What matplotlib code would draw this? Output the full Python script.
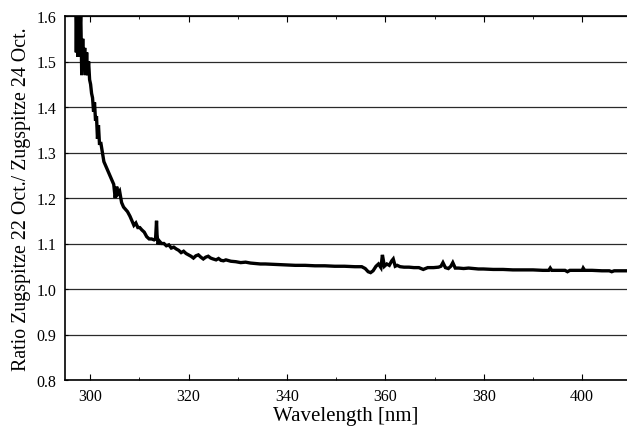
import matplotlib
matplotlib.use("Agg")
import matplotlib.pyplot as plt
from matplotlib.ticker import MultipleLocator, FormatStrFormatter

wavelength = [297.1, 297.2, 297.3, 297.5, 297.7, 297.9, 298.1, 298.3, 298.5, 298.7,
              298.9, 299.1, 299.3, 299.5, 299.7, 299.9, 300.1, 300.3, 300.5, 300.7,
              300.9, 301.1, 301.3, 301.5, 301.7, 301.9, 302.2, 302.5, 302.8, 303.2,
              303.6, 304.0, 304.4, 304.8, 305.1, 305.4, 305.7, 306.0, 306.4, 306.8,
              307.2, 307.6, 308.1, 308.5, 308.9, 309.3, 309.7, 310.1, 310.5, 311.0,
              311.5, 312.0, 312.5, 313.0, 313.3, 313.5, 313.6, 313.8, 314.1, 314.5,
              315.0, 315.5, 316.0, 316.5, 317.0, 317.5, 318.0, 318.5, 319.0, 319.5,
              320.0, 320.5, 321.0, 321.5, 322.0, 322.5, 323.0, 323.5, 324.0, 324.5,
              325.0, 325.6, 326.1, 326.6, 327.1, 327.6, 328.6, 329.6, 330.6, 331.6,
              332.6, 333.6, 334.6, 335.6, 337.6, 339.6, 341.7, 343.7, 345.7, 347.7,
              349.7, 351.7, 353.8, 355.2, 355.9, 356.5, 357.0, 357.5, 358.1, 358.6,
              359.1, 359.4, 359.8, 360.3, 360.8, 361.3, 361.6, 362.0, 362.4, 363.0,
              363.8, 364.8, 365.8, 366.8, 367.7, 368.6, 369.8, 370.8, 371.3, 371.7,
              372.2, 372.8, 373.3, 373.7, 374.2, 374.9, 375.9, 376.9, 377.9, 378.9,
              379.9, 381.9, 383.9, 385.9, 387.9, 390.0, 392.0, 393.2, 393.5, 393.8,
              395.0, 396.5, 397.0, 397.5, 399.0, 400.0, 400.2, 400.5, 402.0, 404.0,
              405.5, 406.0, 406.5, 408.0, 409.5]

ratio = [1.62, 1.52, 1.61, 1.51, 1.60, 1.55, 1.61, 1.47, 1.55, 1.48,
         1.53, 1.47, 1.52, 1.47, 1.50, 1.46, 1.45, 1.43, 1.42, 1.39,
         1.41, 1.37, 1.38, 1.33, 1.36, 1.32, 1.32, 1.30, 1.28, 1.27,
         1.26, 1.25, 1.24, 1.23, 1.20, 1.225, 1.21, 1.215, 1.19, 1.18,
         1.175, 1.17, 1.16, 1.15, 1.14, 1.145, 1.135, 1.135, 1.13, 1.125,
         1.115, 1.11, 1.11, 1.108, 1.11, 1.15, 1.12, 1.098, 1.105, 1.10,
         1.10, 1.095, 1.097, 1.09, 1.092, 1.088, 1.085, 1.08, 1.083, 1.078,
         1.075, 1.072, 1.068, 1.073, 1.075, 1.07, 1.066, 1.07, 1.072, 1.068,
         1.066, 1.064, 1.067, 1.063, 1.062, 1.064, 1.061, 1.06, 1.058, 1.059,
         1.057, 1.056, 1.055, 1.055, 1.054, 1.053, 1.052, 1.052, 1.051, 1.051,
         1.05, 1.05, 1.049, 1.049, 1.045, 1.038, 1.036, 1.04, 1.05, 1.055,
         1.047, 1.075, 1.05, 1.055, 1.052, 1.062, 1.066, 1.05, 1.052, 1.049,
         1.048, 1.048, 1.047, 1.047, 1.043, 1.047, 1.047, 1.048, 1.05, 1.058,
         1.047, 1.045, 1.05, 1.058, 1.046, 1.046, 1.045, 1.046, 1.045, 1.044,
         1.044, 1.043, 1.043, 1.042, 1.042, 1.042, 1.041, 1.041, 1.046, 1.041,
         1.041, 1.041, 1.038, 1.041, 1.041, 1.041, 1.046, 1.041, 1.041, 1.040,
         1.040, 1.038, 1.040, 1.040, 1.040]

x_ticks = [300, 320, 340, 360, 380, 400]
y_ticks = [0.8, 0.9, 1.0, 1.1, 1.2, 1.3, 1.4, 1.5, 1.6]

plt.rcParams['font.family'] = ['Liberation Serif', 'DejaVu Serif']

fig = plt.figure(figsize=(6.27, 4.27), dpi=100)
ax = fig.add_axes([65/627, 1 - 381/427, (627 - 65)/627, (381 - 17)/427])

ax.plot(wavelength, ratio, color='black', linewidth=2.4, solid_joinstyle='miter')

ax.set_xlim(294.9, 409.1)
ax.set_ylim(0.8, 1.6)
ax.set_xticks(x_ticks)
ax.xaxis.set_minor_locator(MultipleLocator(10))
ax.set_yticks(y_ticks)
ax.yaxis.set_major_formatter(FormatStrFormatter('%.1f'))

ax.grid(axis='y', color='#2a2a2a', linewidth=0.9)
ax.set_axisbelow(True)

ax.spines['right'].set_visible(False)
for s in ['left', 'bottom', 'top']:
    ax.spines[s].set_linewidth(1.2)

ax.tick_params(axis='x', which='both', direction='in', top=True, labelsize=11.5, pad=6)
ax.tick_params(axis='x', which='major', length=4)
ax.tick_params(axis='x', which='minor', length=2.5)
ax.tick_params(axis='y', which='both', direction='in', length=2, labelsize=11.5, pad=6)

ax.set_xlabel('Wavelength [nm]', fontsize=15, labelpad=1)
ax.set_ylabel('Ratio Zugspitze 22 Oct./ Zugspitze 24 Oct.', fontsize=14.3, labelpad=4)

fig.savefig('out.png', dpi=100)
